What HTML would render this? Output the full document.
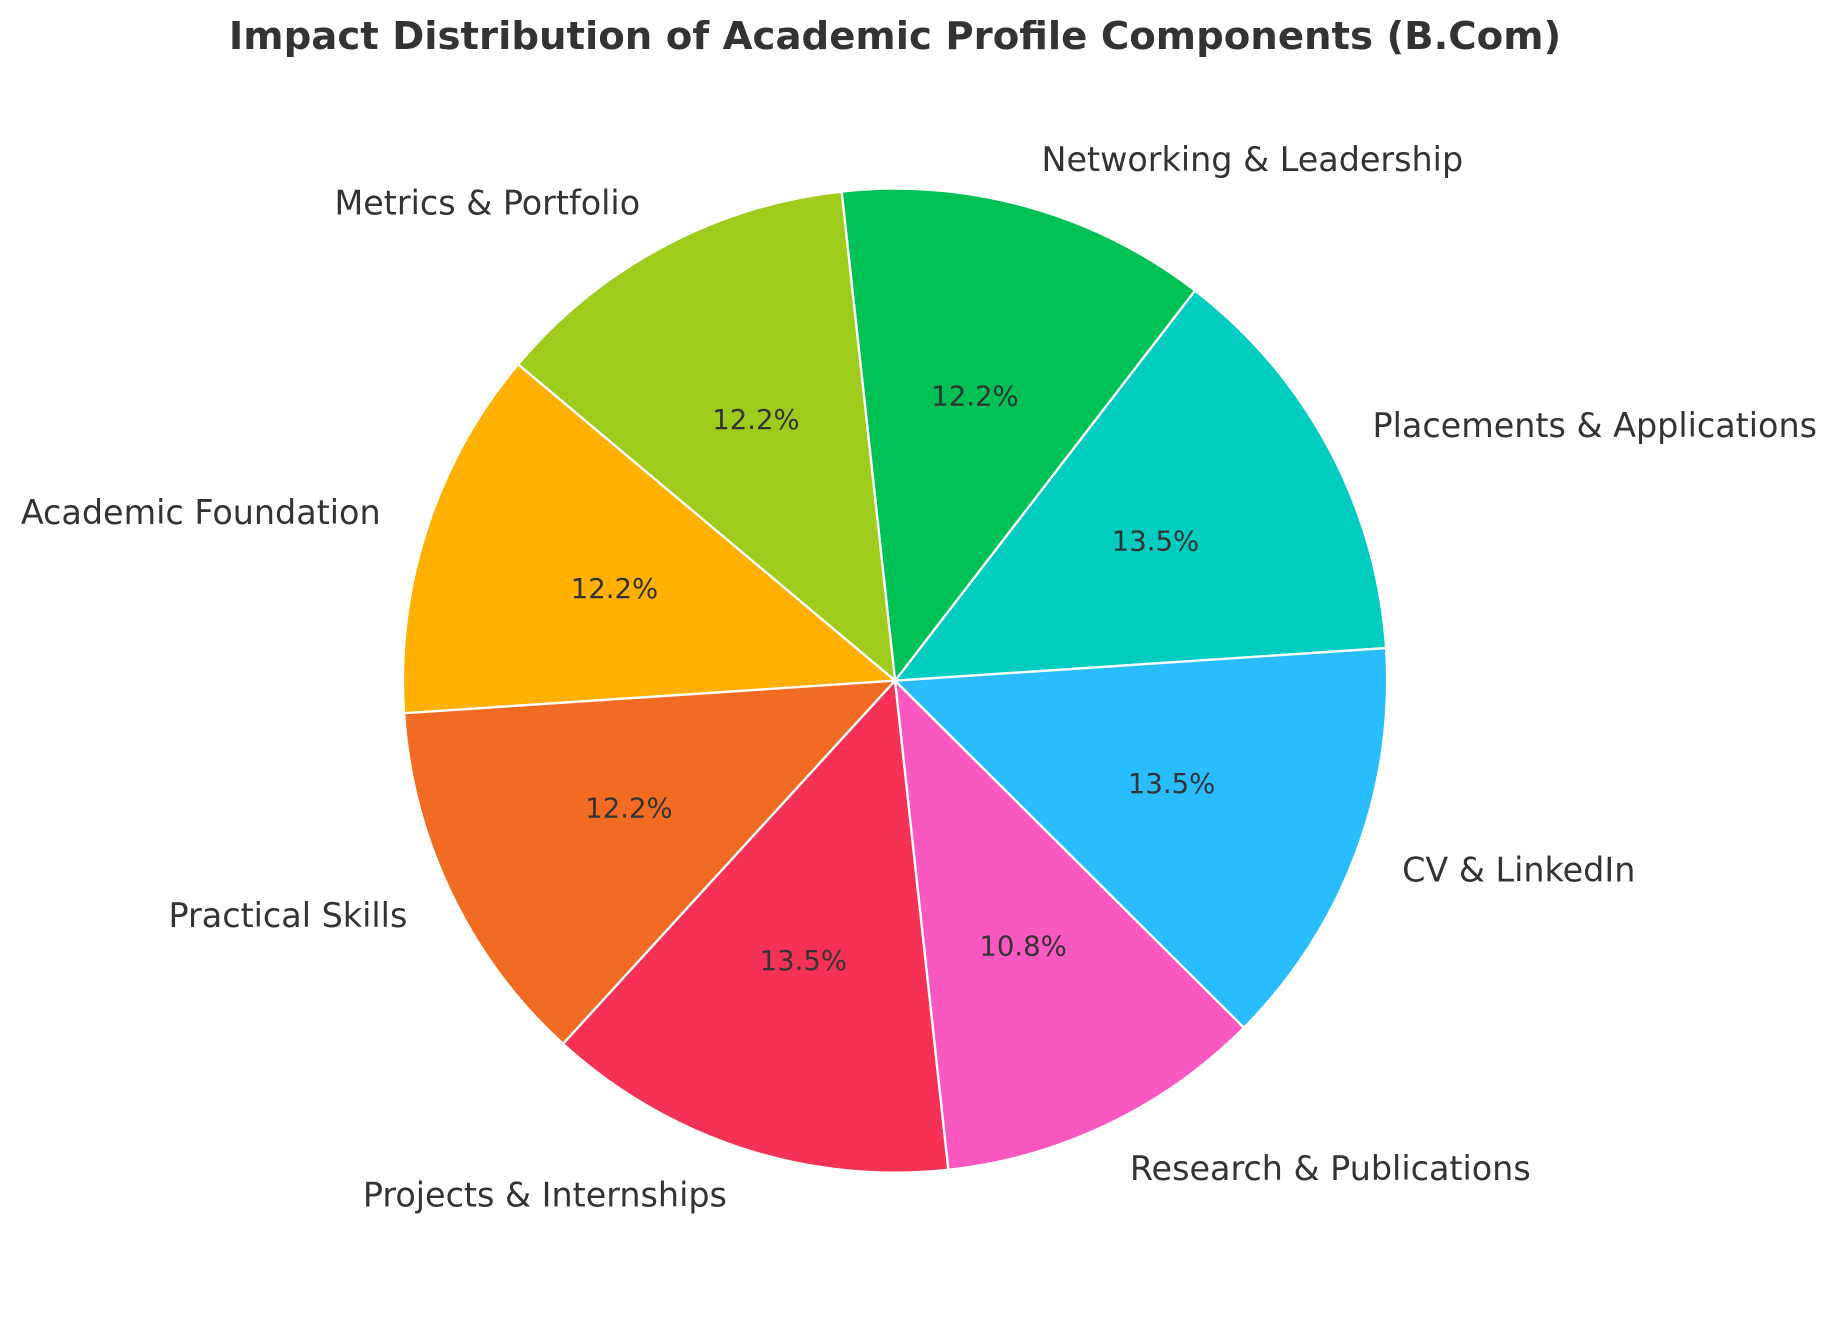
<!DOCTYPE html>
<html><head><meta charset="utf-8"><style>
html,body{margin:0;padding:0;background:#fff;}
svg{display:block;}
text{font-family:"DejaVu Sans","Liberation Sans",sans-serif;fill:#333;}
</style></head><body>
<svg width="1837" height="1318" viewBox="0 0 1568 1125" preserveAspectRatio="none" xmlns="http://www.w3.org/2000/svg">
<rect width="1568" height="1125" fill="#fff"/>
<g stroke="#fff" stroke-width="2" stroke-linejoin="round">
<path d="M764,581 L1183.1,553.2 A420,420 0 0 0 1020.0,248.0 Z" fill="#00CCBF"/>
<path d="M764,581 L1020.0,248.0 A420,420 0 0 0 718.4,163.5 Z" fill="#00C156"/>
<path d="M764,581 L718.4,163.5 A420,420 0 0 0 442.2,311.0 Z" fill="#9ECB1C"/>
<path d="M764,581 L442.2,311.0 A420,420 0 0 0 344.9,608.8 Z" fill="#FFB000"/>
<path d="M764,581 L344.9,608.8 A420,420 0 0 0 480.6,891.0 Z" fill="#F26B22"/>
<path d="M764,581 L480.6,891.0 A420,420 0 0 0 809.5,998.5 Z" fill="#F53156"/>
<path d="M764,581 L809.5,998.5 A420,420 0 0 0 1061.8,877.2 Z" fill="#F958C0"/>
<path d="M764,581 L1061.8,877.2 A420,420 0 0 0 1183.1,553.2 Z" fill="#29BDFD"/>
</g>
<text x="764" y="42" text-anchor="middle" font-size="33" font-weight="bold">Impact Distribution of Academic Profile Components (B.Com)</text>
<g font-size="23.5" text-anchor="middle" dominant-baseline="central">
<text x="986.3" y="462.3">13.5%</text>
<text x="832.2" y="338.4">12.2%</text>
<text x="645.3" y="358.7">12.2%</text>
<text x="524.5" y="502.7">12.2%</text>
<text x="536.9" y="690.3">12.2%</text>
<text x="685.7" y="820.5">13.5%</text>
<text x="873.3" y="808.1">10.8%</text>
<text x="1000" y="669.2">13.5%</text>
</g>
<g font-size="28.5" dominant-baseline="central">
<text x="1171.5" y="363.4">Placements &amp; Applications</text>
<text x="889" y="136">Networking &amp; Leadership</text>
<text x="546.4" y="173.5" text-anchor="end">Metrics &amp; Portfolio</text>
<text x="324.9" y="437.5" text-anchor="end">Academic Foundation</text>
<text x="347.7" y="781.4" text-anchor="end">Practical Skills</text>
<text x="620.5" y="1020" text-anchor="end">Projects &amp; Internships</text>
<text x="964.4" y="997.3">Research &amp; Publications</text>
<text x="1196.8" y="742.8">CV &amp; LinkedIn</text>
</g>
</svg>
</body></html>
